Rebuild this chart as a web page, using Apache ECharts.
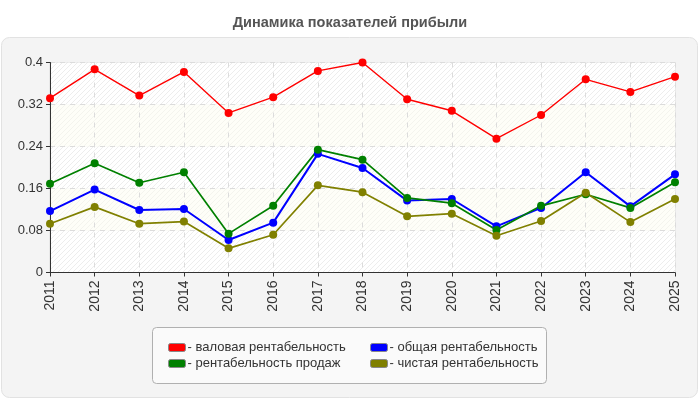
<!DOCTYPE html>
<html>
<head>
<meta charset="utf-8">
<script src="https://cdn.jsdelivr.net/npm/echarts@6/dist/echarts.min.js"></script>
<style>
  html, body { margin: 0; padding: 0; background: #fff; }
  #chart { width: 700px; height: 400px; }
</style>
</head>
<body>
<div id="chart"></div>
<script>
const years = ['2011', '2012', '2013', '2014', '2015', '2016', '2017', '2018', '2019', '2020', '2021', '2022', '2023', '2024', '2025']
const grossMargin = [0.332, 0.387, 0.337, 0.382, 0.304, 0.334, 0.384, 0.400, 0.330, 0.308, 0.255, 0.300, 0.368, 0.344, 0.373]
const salesMargin = [0.169, 0.208, 0.171, 0.191, 0.074, 0.127, 0.234, 0.215, 0.142, 0.132, 0.081, 0.127, 0.149, 0.123, 0.172]
const totalMargin = [0.117, 0.158, 0.119, 0.121, 0.062, 0.095, 0.226, 0.199, 0.137, 0.140, 0.088, 0.123, 0.191, 0.126, 0.187]
const netMargin = [0.093, 0.125, 0.093, 0.097, 0.046, 0.072, 0.166, 0.153, 0.107, 0.112, 0.070, 0.098, 0.152, 0.096, 0.140]
const yTicks = [0, 0.08, 0.16, 0.24, 0.32, 0.4]

// hatched background for the plot bands
function hatch (bg, line) {
  const c = document.createElement('canvas')
  c.width = 5
  c.height = 5
  const ctx = c.getContext('2d')
  ctx.fillStyle = bg
  ctx.fillRect(0, 0, 5, 5)
  ctx.strokeStyle = line
  ctx.lineWidth = 1
  ctx.beginPath()
  ctx.moveTo(-1, 6); ctx.lineTo(6, -1)
  ctx.moveTo(-1, 1); ctx.lineTo(1, -1)
  ctx.moveTo(4, 6); ctx.lineTo(6, 4)
  ctx.stroke()
  return { image: c, repeat: 'repeat' }
}

const chart = echarts.init(document.getElementById('chart'))

function line (name, data, color, width) {
  return {
    name: name,
    type: 'line',
    data: data,
    symbol: 'circle',
    symbolSize: 8,
    color: color,
    lineStyle: { width: width, color: color },
    itemStyle: { color: color },
    emphasis: { disabled: true },
    animation: false
  }
}

const font = 'Arial, "Liberation Sans", sans-serif'

const option = {
  backgroundColor: '#fff',
  textStyle: { fontFamily: font },
  title: {
    text: 'Динамика показателей прибыли',
    left: 'center',
    top: 10,
    textStyle: { fontSize: 14.5, fontWeight: 'bold', color: '#555', fontFamily: font }
  },
  graphic: [
    {
      type: 'rect',
      z: -10,
      silent: true,
      shape: { x: 1.5, y: 37.5, width: 696, height: 360, r: 8 },
      style: { fill: '#f4f4f4', stroke: '#e2e2e2', lineWidth: 1 }
    },
    {
      type: 'rect',
      z: -5,
      silent: true,
      shape: { x: 152.5, y: 327.5, width: 394, height: 56, r: 4 },
      style: { fill: '#fafafa', stroke: '#b0b0b0', lineWidth: 1 }
    }
  ],
  legend: [
    {
      orient: 'vertical',
      left: 163,
      top: 336,
      itemWidth: 17,
      itemHeight: 8,
      itemGap: 3,
      icon: 'roundRect',
      itemStyle: { borderColor: '#888', borderWidth: 1 },
      textStyle: { fontSize: 13, color: '#333', padding: [0, 0, 0, -3] },
      formatter: name => '- ' + name,
      selectedMode: false,
      data: ['валовая рентабельность', 'рентабельность продаж']
    },
    {
      orient: 'vertical',
      left: 365,
      top: 336,
      itemWidth: 17,
      itemHeight: 8,
      itemGap: 3,
      icon: 'roundRect',
      itemStyle: { borderColor: '#888', borderWidth: 1 },
      textStyle: { fontSize: 13, color: '#333', padding: [0, 0, 0, -3] },
      formatter: name => '- ' + name,
      selectedMode: false,
      data: ['общая рентабельность', 'чистая рентабельность']
    }
  ],
  grid: {
    left: 50,
    right: 25,
    top: 62.5,
    bottom: 127.5,
    show: true,
    borderColor: '#ddd',
    borderWidth: 1,
    backgroundColor: 'transparent'
  },
  xAxis: {
    type: 'category',
    data: years,
    boundaryGap: false,
    axisLine: { lineStyle: { color: '#333', width: 1 } },
    axisTick: { show: true, length: 4, lineStyle: { color: '#333' } },
    axisLabel: { rotate: 90, fontSize: 14, color: '#333', margin: 8 },
    splitLine: { show: true, lineStyle: { color: '#dcdcdc', type: [5, 5] } }
  },
  yAxis: {
    type: 'value',
    min: 0,
    max: 0.4,
    interval: 0.08,
    axisLine: { show: true, lineStyle: { color: '#333', width: 1 } },
    axisTick: { show: true, length: 4, lineStyle: { color: '#333' } },
    axisLabel: {
      fontSize: 13,
      color: '#333',
      margin: 7,
      formatter: v => {
        const t = yTicks.find(x => Math.abs(x - v) < 1e-9)
        return t === undefined ? '' : String(t)
      }
    },
    splitLine: { show: true, lineStyle: { color: '#dcdcdc', type: [5, 5] } },
    splitArea: {
      show: true,
      areaStyle: { color: [hatch('#ffffff', '#ededed'), hatch('#fefef8', '#f4f4ee')] }
    }
  },
  series: [
    line('валовая рентабельность', grossMargin, '#ff0000', 1.4),
    line('общая рентабельность', totalMargin, '#0000ff', 2),
    line('рентабельность продаж', salesMargin, '#008000', 1.7),
    line('чистая рентабельность', netMargin, '#808000', 1.7)
  ]
}

chart.setOption(option)
</script>
</body>
</html>
